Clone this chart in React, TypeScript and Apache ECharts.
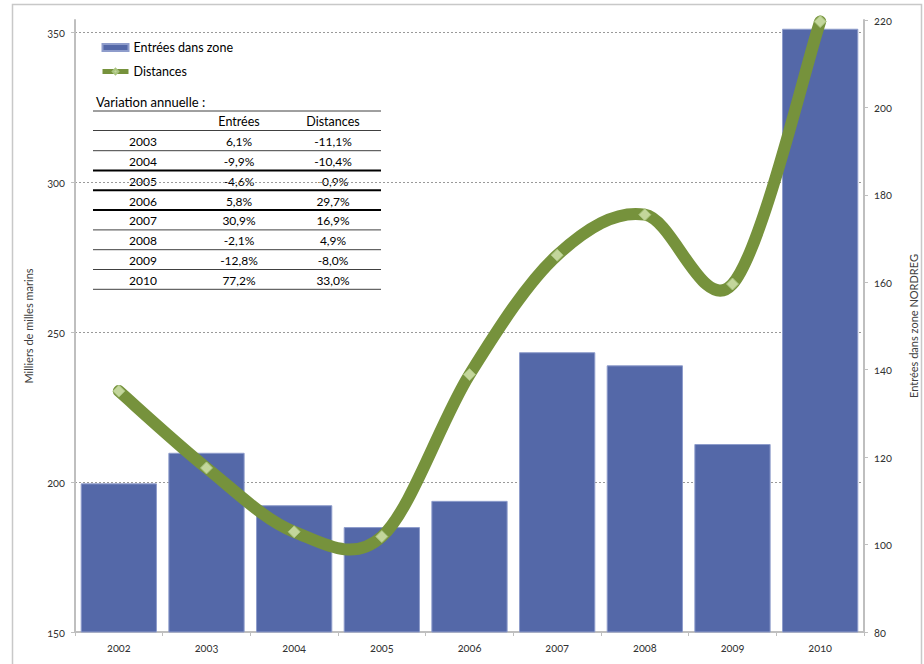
import React, { useEffect, useRef } from 'react';
import * as echarts from 'echarts';

// ---- Data ----
const years = ['2002', '2003', '2004', '2005', '2006', '2007', '2008', '2009', '2010'];
const entrees = [114, 121, 109, 104, 110, 144, 141, 123, 218];
const distances = [230.3, 204.7, 183.4, 181.8, 235.8, 275.6, 289.1, 266.0, 353.5];

const tableTitle = 'Variation annuelle :';
const tableHeaders = ['Entrées', 'Distances'];
const tableYears = ['2003', '2004', '2005', '2006', '2007', '2008', '2009', '2010'];
const varEntrees = ['6,1%', '-9,9%', '-4,6%', '5,8%', '30,9%', '-2,1%', '-12,8%', '77,2%'];
const varDistances = ['-11,1%', '-10,4%', '-0,9%', '29,7%', '16,9%', '4,9%', '-8,0%', '33,0%'];

const leftTicks = [150, 200, 250, 300, 350];
const rightTicks = [80, 100, 120, 140, 160, 180, 200, 220];

const FONT = 'Lato, "Open Sans", sans-serif';
const GREEN = '#76923C';

function buildTable() {
  const els: any[] = [];
  const x1 = 93;
  const x2 = 381;
  const colYear = 143;
  const colE = 239;
  const colD = 333;
  const rowH = 19.8;
  const firstLine = 150.7;
  const thick = [false, true, true, true, false, false, false, false];
  els.push({
    type: 'text',
    x: 96,
    y: 102,
    style: { text: tableTitle, fill: '#000', font: `13px ${FONT}`, textAlign: 'left', textVerticalAlign: 'middle' },
  });
  els.push({ type: 'line', shape: { x1, y1: 111, x2, y2: 111 }, style: { stroke: '#404040', lineWidth: 1 } });
  els.push({
    type: 'text', x: colE, y: 121,
    style: { text: tableHeaders[0], fill: '#000', font: `12.5px ${FONT}`, textAlign: 'center', textVerticalAlign: 'middle' },
  });
  els.push({
    type: 'text', x: colD, y: 121,
    style: { text: tableHeaders[1], fill: '#000', font: `12.5px ${FONT}`, textAlign: 'center', textVerticalAlign: 'middle' },
  });
  els.push({ type: 'line', shape: { x1, y1: 130.5, x2, y2: 130.5 }, style: { stroke: '#404040', lineWidth: 1 } });
  tableYears.forEach((yr, i) => {
    const ly = firstLine + rowH * i;
    const ty = ly - 9;
    const cells: [string, number][] = [[yr, colYear], [varEntrees[i], colE], [varDistances[i], colD]];
    cells.forEach(([t, cx]) => {
      els.push({
        type: 'text', x: cx, y: ty,
        style: { text: t, fill: '#000', font: `12px ${FONT}`, textAlign: 'center', textVerticalAlign: 'middle' },
      });
    });
    els.push({
      type: 'line',
      shape: { x1, y1: ly, x2, y2: ly },
      style: { stroke: thick[i] ? '#000' : '#404040', lineWidth: thick[i] ? 2 : 1 },
    });
  });
  return els;
}

// Excel-like (Catmull-Rom) smoothing drawn through the axis scales
function curveRenderItem(params: any, api: any) {
  if (params.dataIndex !== 0) return null;
  const p = distances.map((v, i) => api.coord([i, v]));
  const n = p.length;
  const t = 1 / 6;
  let d = `M${p[0][0]},${p[0][1]}`;
  for (let i = 0; i < n - 1; i++) {
    const p0 = p[Math.max(0, i - 1)];
    const p1 = p[i];
    const p2 = p[i + 1];
    const p3 = p[Math.min(n - 1, i + 2)];
    const c1x = p1[0] + (p2[0] - p0[0]) * t;
    const c1y = p1[1] + (p2[1] - p0[1]) * t;
    const c2x = p2[0] - (p3[0] - p1[0]) * t;
    const c2y = p2[1] - (p3[1] - p1[1]) * t;
    d += ` C${c1x},${c1y} ${c2x},${c2y} ${p2[0]},${p2[1]}`;
  }
  return {
    type: 'path',
    shape: { pathData: d },
    style: { fill: 'none', stroke: GREEN, lineWidth: 12, lineCap: 'round', lineJoin: 'round' },
    z2: 1,
  };
}

export default function App() {
  const ref = useRef<HTMLDivElement>(null);
  useEffect(() => {
    if (!ref.current) return;
    const chart = echarts.init(ref.current, undefined, { renderer: 'svg' });
    const axisGray = '#BFBFBF';
    const labelStyle = { color: '#333', fontSize: 11, fontFamily: FONT };
    chart.setOption({
      animation: false,
      backgroundColor: '#fff',
      textStyle: { fontFamily: FONT },
      grid: { left: 75, right: 60, top: 20, bottom: 32, containLabel: false, outerBoundsMode: 'none' },
      legend: {
        orient: 'vertical',
        left: 95,
        top: 36,
        itemWidth: 26,
        itemHeight: 7,
        itemGap: 11,
        textStyle: { color: '#000', fontSize: 12.5, fontFamily: FONT },
        data: [
          { name: 'Entrées dans zone', icon: 'rect' },
          { name: 'Distances', lineStyle: { width: 5, color: GREEN, opacity: 1 } },
        ],
      },
      xAxis: {
        type: 'category',
        data: years,
        boundaryGap: true,
        axisLine: { show: true, lineStyle: { color: axisGray, width: 2 } },
        axisTick: { show: true, length: 4, lineStyle: { color: axisGray } },
        axisLabel: { ...labelStyle, margin: 10 },
      },
      yAxis: [
        {
          type: 'value',
          position: 'left',
          min: leftTicks[0],
          max: 354,
          interval: 50,
          name: 'Milliers de milles marins',
          nameLocation: 'middle',
          nameGap: 41,
          nameTextStyle: { color: '#404040', fontSize: 11, fontFamily: FONT },
          axisLine: { show: true, lineStyle: { color: axisGray, width: 2 } },
          axisTick: { show: true, length: 4, lineStyle: { color: axisGray } },
          axisLabel: {
            ...labelStyle,
            margin: 10,
            showMaxLabel: false,
            formatter: (v: number) => (leftTicks.includes(v) ? String(v) : ''),
          },
          splitLine: {
            show: true,
            showMinLine: false,
            showMaxLine: false,
            lineStyle: { color: '#999', type: [2, 2], width: 1 },
          },
        },
        {
          type: 'value',
          position: 'right',
          min: rightTicks[0],
          max: rightTicks[rightTicks.length - 1],
          interval: 20,
          name: 'Entrées dans zone NORDREG',
          nameLocation: 'middle',
          nameGap: 44,
          nameTextStyle: { color: '#404040', fontSize: 11, fontFamily: FONT },
          axisLine: { show: true, lineStyle: { color: axisGray, width: 2 } },
          axisTick: { show: true, length: 4, lineStyle: { color: axisGray } },
          axisLabel: { ...labelStyle, margin: 10 },
          splitLine: { show: false },
        },
      ],
      series: [
        {
          name: 'Entrées dans zone',
          type: 'bar',
          yAxisIndex: 1,
          data: entrees,
          barCategoryGap: '13%',
          itemStyle: { color: '#5468A8', borderColor: '#8E9CCB', borderWidth: 1 },
          z: 1,
        },
        {
          name: 'Distances (courbe)',
          type: 'custom',
          yAxisIndex: 0,
          data: distances.map((v, i) => [i, v]),
          encode: { x: 0, y: 1 },
          renderItem: curveRenderItem,
          silent: true,
          z: 2,
        },
        {
          name: 'Distances',
          type: 'line',
          yAxisIndex: 0,
          data: distances,
          lineStyle: { color: GREEN, width: 12, opacity: 0 },
          itemStyle: { color: '#C3D69B', borderColor: '#A9C47F', borderWidth: 1 },
          symbol: 'diamond',
          symbolSize: 12,
          showSymbol: true,
          z: 3,
        },
      ],
      graphic: [
        {
          type: 'rect',
          shape: { x: 12.5, y: 4.5, width: 909, height: 700 },
          style: { fill: 'none', stroke: '#C8C8C8', lineWidth: 1.5 },
          silent: true,
          z: -10,
        },
        ...buildTable(),
      ],
    });
    return () => chart.dispose();
  }, []);
  return (
    <>
      <style>{`body{margin:0} #root svg text{font-variant-numeric: oldstyle-nums;}`}</style>
      <div ref={ref} style={{ position: 'absolute', left: 0, top: 0, width: 924, height: 664 }} />
    </>
  );
}
